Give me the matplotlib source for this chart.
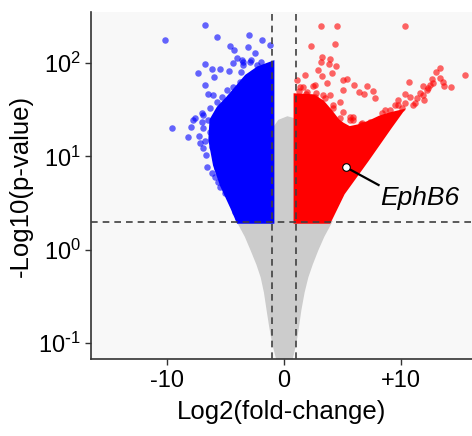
import math
import matplotlib
matplotlib.use("Agg")
import matplotlib.pyplot as plt
from matplotlib.ticker import FixedLocator, FuncFormatter

plt.rcParams["font.family"] = ["Liberation Sans", "DejaVu Sans"]
plt.rcParams["mathtext.default"] = "regular"

# dense cores of the cloud (outline of the overlapping points)
gray_x = [-0.55, -0.9, -1.15, -1.37, -1.6, -1.88, -2.25, -2.74, -3.25, -3.9,
          -1.1, -1.05, -0.85, -0.4, 0.3, 0.8, 1.1, 1.1,
          4.0, 3.35, 2.82, 2.35, 1.97, 1.65, 1.37, 1.17, 0.95, 0.62]
gray_y = [0.067, 0.1, 0.15, 0.225, 0.35, 0.509, 0.7, 0.99, 1.4, 1.98,
          2.1, 12, 20, 24, 26, 25, 15, 2.1,
          1.98, 1.4, 0.99, 0.7, 0.509, 0.35, 0.225, 0.15, 0.1, 0.067]

blue_core_x = [-1.0, -3.9, -4.4, -5.3, -5.9, -6.3, -6.2, -5.6, -4.8, -4.0, -3.2, -2.2, -1.0]
blue_core_y = [2.0, 2.0, 2.8, 4.9, 8.1, 15, 24.5, 33, 42, 55, 72, 88, 100]

red_core_x = [1.0, 3.85, 5.04, 7.09, 9.06, 10.0, 9.0, 8.2, 7.3, 6.4, 5.6, 5.0, 4.6, 4.0, 3.3, 2.5, 1.0]
red_core_y = [2.0, 2.0, 4.04, 9.15, 20.6, 30, 28, 26, 23, 21, 20, 22, 24, 30, 38, 44, 45]

# individual genes outside the dense cores
down_x = [-6.75, -10.17, -5.73, -2.99, -4.62, -3.08, -4.27, -2.48, -4.02, -6.75,
          -7.35, -6.15, -5.47, -5.98, -6.75, -7.78, -7.01, -6.5, -6.07, -4.7,
          -3.5, -9.57, -8.21, -7.95, -7.6, -7.01, -7.26, -6.75, -6.67, -6.58,
          -5.9, -5.47, -4.62, -4.19, -3.93, -4.36, -3.59, -2.91, -2.31, -1.62,
          -2.65, -3.16, -3.76, -4.36, -4.87, -5.3, -4.62, -5.73, -6.32, -6.92,
          -5.04, -1.79, -1.37, -4.02, -6.32, -6.15, -5.9, -5.73, -5.64, -5.04,
          -4.44, -4.02, -6.5, -6.92, -7.18, -6.92, -6.15, -5.21, -3.5, -2.82,
          -1.71, -2.22, -1.37, -3.68, -1.97, -1.28, -1.2, -1.88]
down_y = [256, 177, 190, 200, 152, 149, 138, 128, 113, 98,
          78, 86, 86, 71, 58, 24.5, 29, 46.6, 45.5, 82,
          95, 20.1, 16.1, 20.6, 25.5, 23.4, 16.6, 14.6, 10.4, 7.7,
          6.0, 4.7, 3.6, 2.54, 2.19, 100, 108, 103, 95, 84,
          78, 69, 62.7, 55.5, 51.5, 43.3, 43.3, 38.3, 33, 27.8,
          35.6, 62.7, 49, 45.5, 18.2, 12.6, 9.6, 7.5, 5.3, 4.1,
          3.15, 2.47, 24.5, 20.1, 13.9, 12.3, 6.6, 5.56, 102, 108,
          88.5, 74.5, 61, 80, 103, 80, 156, 177]

up_x = [3.16, 4.53, 10.34, 2.31, 4.36, 3.25, 3.93, 3.16, 3.85, 4.44,
        4.1, 3.25, 15.47, 13.33, 12.99, 13.33, 12.65, 10.68, 13.68, 14.27,
        5.04, 5.38, 5.98, 7.09, 7.61, 6.41, 6.84, 7.78, 5.9, 9.74,
        10.34, 11.88, 1.62, 2.48, 7.35, 6.58, 8.63, 9.49, 10.77, 11.62,
        12.31, 12.74, 11.97, 11.2, 10.09, 9.06, 8.21, 9.49, 1.37, 1.97,
        2.65, 3.33, 3.93, 4.19, 4.79, 5.04, 3.68, 5.04, 2.22, 1.62,
        5.64, 6.67, 8.38, 9.06, 9.74, 10.34, 11.03, 11.37, 11.88, 12.22,
        12.48, 13.59, 6.24, 6.67, 7.35, 7.78, 7.09, 6.24, 5.81, 5.47,
        5.04, 6.5, 4.79, 8.21, 8.63, 5.64, 5.9, 1.11, 1.79, 2.65, 2.91,
        1.3, 1.9, 2.7, 3.5, 4.2, 4.8, 1.5, 8.0, 8.5, 9.2, 7.6, 6.9, 7.9]
up_y = [250, 250, 250, 152, 160, 116, 111, 103, 98, 93,
        78, 73, 74.5, 88.5, 80, 69, 67.6, 62.7, 56.9, 55.5,
        65.9, 67.6, 58.2, 56.9, 50.2, 49, 46.6, 42.3, 26.4, 40.2,
        46.6, 56.9, 55.5, 56.9, 23.4, 22.2, 31.4, 35.6, 43.3, 47.9,
        54.2, 61.2, 40.2, 37.4, 33, 26.4, 24.5, 27.8, 55.5, 49,
        43.3, 45.5, 45.5, 35.6, 38.3, 29.9, 61.2, 51.5, 38.3, 29.9,
        24.5, 22.8, 29.2, 31.4, 35.6, 37.4, 35.6, 42.3, 45.5, 51.5,
        58.2, 62.7, 19.2, 21.7, 22.8, 17.8, 13.9, 12.6, 10.9, 14.3,
        17.8, 9.9, 11.7, 22.8, 26.4, 26.4, 24.5, 65.9, 74.5, 58.2, 84.4,
        50, 47, 48, 42, 33, 26, 42, 17, 22, 26, 15, 16, 20]

gene_name = "EphB6"
gene_x, gene_y = 5.3, 7.66
label_x, label_y = 8.2, 3.6


def log_label(v, pos):
    e = int(round(math.log10(v)))
    if e < 0:
        return r"$10^{\text{-}%d}$" % (-e)
    return r"$10^{%d}$" % e


fig = plt.figure(figsize=(4.72, 4.36), dpi=100)
ax = fig.add_axes([0.1934, 0.176, 0.8066, 0.797])
ax.set_facecolor("#f8f8f8")

ax.fill(gray_x, gray_y, color="#cccccc", lw=2, ec="#cccccc", zorder=1)
ax.fill(blue_core_x, blue_core_y, color="#0000ff", lw=3, ec="#0000ff", zorder=2)
ax.fill(red_core_x, red_core_y, color="#ff0000", lw=3, ec="#ff0000", zorder=2)
ax.scatter(down_x, down_y, s=22, color="#0000ff", alpha=0.6, lw=0, zorder=3)
ax.scatter(up_x, up_y, s=22, color="#ff0000", alpha=0.6, lw=0, zorder=3)

for xv in (-1, 1):
    ax.axvline(xv, color="#404040", ls=(0, (4, 3)), lw=1.2, zorder=4)
ax.axhline(2, color="#404040", ls=(0, (4, 3)), lw=1.2, zorder=4)

ax.plot([gene_x, label_x - 0.1], [gene_y, 4.94], color="black", lw=1.6, zorder=5)
ax.scatter([gene_x], [gene_y], s=30, color="white", edgecolors="black", lw=0.8, zorder=6)
ax.text(label_x, label_y, gene_name, style="italic", fontsize=19, ha="left", va="center")

ax.set_yscale("log")
ax.set_xlim(-16.5, 16.1)
ax.set_ylim(0.067, 355)
ax.xaxis.set_major_locator(FixedLocator([-10, 0, 10]))
ax.xaxis.set_major_formatter(FuncFormatter(lambda v, p: "+%d" % v if v > 0 else "%d" % v))
ax.yaxis.set_major_locator(FixedLocator([0.1, 1, 10, 100]))
ax.yaxis.set_minor_locator(FixedLocator([]))
ax.yaxis.set_major_formatter(FuncFormatter(log_label))
ax.tick_params(labelsize=17, length=4, width=1, color="#333333")

for side in ("top", "right"):
    ax.spines[side].set_visible(False)
for side in ("left", "bottom"):
    ax.spines[side].set_color("#333333")
    ax.spines[side].set_linewidth(1.2)

ax.set_xlabel("Log2(fold-change)", fontsize=18.5, labelpad=6)
ax.set_ylabel("-Log10(p-value)", fontsize=18.5, labelpad=4)

fig.savefig("out.png", dpi=100)
